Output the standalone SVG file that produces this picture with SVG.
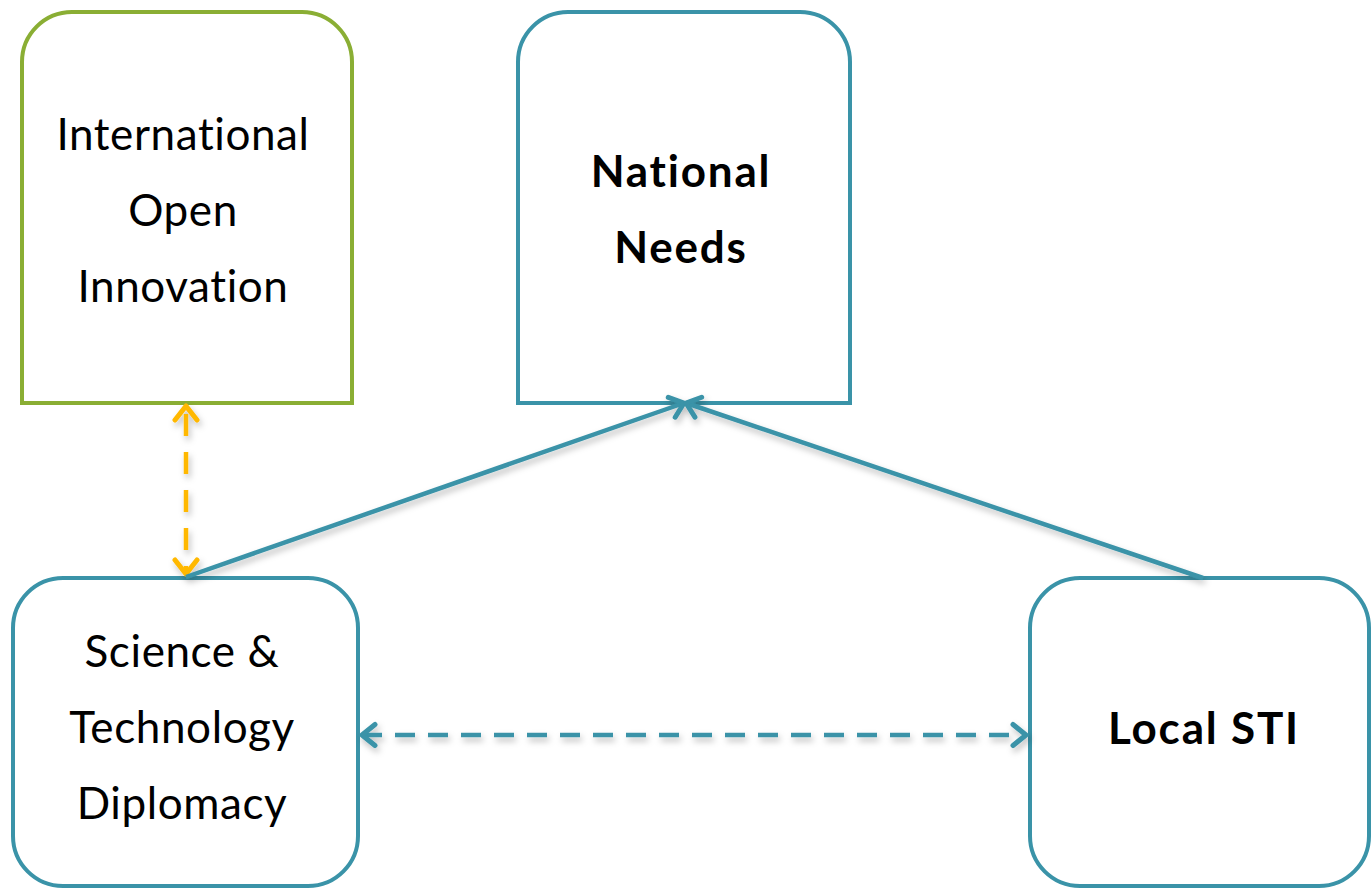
<svg xmlns="http://www.w3.org/2000/svg" width="1371" height="889" viewBox="0 0 1371 889">
<style>
.box{fill:#fff;stroke-width:4}
.blue{stroke:#3A93A8}
.green{stroke:#8AAE34}
.t{font-family:Lato,"Open Sans",sans-serif;font-size:44px;fill:#000;text-anchor:middle;letter-spacing:0.6px}
.b{font-weight:bold;letter-spacing:1.8px}
.conn{fill:none;stroke-width:4.5}
</style>
<defs>
<filter id="sh" x="-20%" y="-20%" width="140%" height="140%">
<feDropShadow dx="2" dy="4" stdDeviation="3" flood-color="#000" flood-opacity="0.25"/>
</filter>
<marker id="ab" viewBox="-18 -14 22 28" markerUnits="userSpaceOnUse" markerWidth="22" markerHeight="28" refX="0" refY="0" orient="auto-start-reverse">
<path d="M-13,-10.5 L0,0 L-13,10.5" fill="none" stroke="#3A93A8" stroke-width="5" stroke-linecap="round" stroke-linejoin="round"/>
</marker>
<marker id="ay" viewBox="-18 -14 22 28" markerUnits="userSpaceOnUse" markerWidth="22" markerHeight="28" refX="0" refY="0" orient="auto-start-reverse">
<path d="M-14,-11 L0,0 L-14,11" fill="none" stroke="#FFB800" stroke-width="5" stroke-linecap="round" stroke-linejoin="round"/>
</marker>
</defs>
<g id="n-international">
<path class="box green" d="M22,403 V62 A50,50 0 0 1 72,12 H302 A50,50 0 0 1 352,62 V403 Z"/>
<text class="t" x="183" y="150">International</text>
<text class="t" x="183" y="226">Open</text>
<text class="t" x="183" y="302">Innovation</text>
</g>
<g id="n-national">
<path class="box blue" d="M518,403 V62 A50,50 0 0 1 568,12 H800 A50,50 0 0 1 850,62 V403 Z"/>
<text class="t b" x="681" y="187">National</text>
<text class="t b" x="681" y="263">Needs</text>
</g>
<g id="n-science">
<rect class="box blue" x="13" y="578" width="345" height="308" rx="50"/>
<text class="t" x="182" y="667">Science &amp;</text>
<text class="t" x="182" y="743">Technology</text>
<text class="t" x="182" y="819">Diplomacy</text>
</g>
<g id="n-local">
<rect class="box blue" x="1030" y="578" width="339" height="308" rx="50"/>
<text class="t b" x="1204" y="744">Local STI</text>
</g>
<g id="connectors" filter="url(#sh)">
<line class="conn" x1="186" y1="406" x2="186" y2="574" stroke="#FFB800" stroke-dasharray="22 16" stroke-dashoffset="-8" marker-start="url(#ay)" marker-end="url(#ay)"/>
<line class="conn blue" x1="186" y1="577" x2="684" y2="403" marker-end="url(#ab)"/>
<line class="conn blue" x1="1203" y1="578" x2="686" y2="403" marker-end="url(#ab)"/>
<line class="conn blue" x1="362" y1="735" x2="1026" y2="735" stroke-dasharray="20 13" marker-start="url(#ab)" marker-end="url(#ab)"/>
</g>
</svg>
